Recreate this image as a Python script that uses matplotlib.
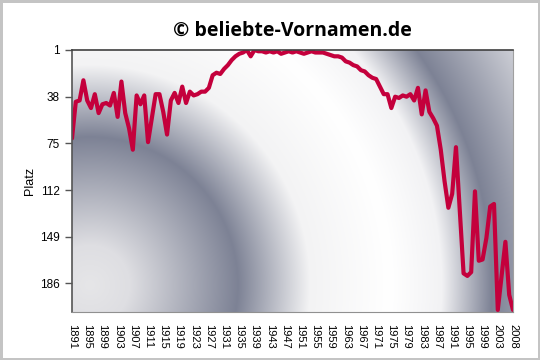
import numpy as np
import matplotlib
matplotlib.use("Agg")
import matplotlib.pyplot as plt
from matplotlib.colors import to_rgb

# ---- data -------------------------------------------------------------
years = list(range(1891, 2004)) + [2005, 2006, 2007, 2008]
ranks = [71, 42, 41, 25, 41, 47, 36, 51, 44, 43,
         45, 35, 54, 26, 51, 63, 80, 37, 44, 37,
         74, 55, 36, 36, 50, 68, 41, 35, 43, 30,
         43, 34, 37, 36, 34, 34, 31, 21, 19, 20,
         16, 13, 9, 6, 4, 3, 1, 6, 1, 2,
         2, 3, 2, 3, 2, 4, 3, 2, 3, 2,
         3, 4, 3, 2, 3, 3, 3, 4, 5, 6,
         6, 7, 10, 11, 13, 14, 17, 18, 21, 23,
         24, 30, 36, 36, 47, 38, 39, 37, 38, 36,
         41, 31, 52, 33, 50, 55, 61, 80, 105, 126,
         115, 78, 128, 178, 180, 177, 113, 168, 167, 150,
         125, 123, 207, 180, 153, 195, 207]
y_ticks = [1, 38, 75, 112, 149, 186]
title = "© beliebte-Vornamen.de"
ylabel = "Platz"

# ---- figure -----------------------------------------------------------
fig = plt.figure(figsize=(5.4, 3.6), dpi=100)
fig.patch.set_facecolor("white")
fig.patch.set_edgecolor("#c4c4c4")
fig.patch.set_linewidth(2.5)

L, R, B, T = 72/540, 513/540, 1-312/360, 1-50/360
ax = fig.add_axes([L, B, R-L, T-B])

# background radial banded gradient (in pixel units of the plot area)
nx, ny = 441, 262
u = (np.arange(nx) + 0.5)
v = (np.arange(ny) + 0.5)
U, V = np.meshgrid(u, v)
cx, cy = 90 - 72, 312 - 285   # centre, measured from bottom-left of plot
r = np.hypot(U - cx, (ny - V) - cy)  # row 0 = top
stops_r = [0, 40, 148, 220, 300, 352, 402, 500]
stops_c = ["#e6e6e8", "#dedee2", "#7d8295", "#f3f3f4", "#ffffff",
           "#f2f2f4", "#7d8295", "#dcdde2"]
cols = np.array([to_rgb(c) for c in stops_c])
img = np.dstack([np.interp(r, stops_r, cols[:, k]) for k in range(3)])
ax.imshow(img, extent=[0, 1, 0, 1], transform=ax.transAxes,
          aspect="auto", zorder=0, interpolation="bilinear")

labels = [str(y) for y in years]
ax.plot(labels, ranks, color="#c4003c", lw=3.0, zorder=3,
        solid_joinstyle="round", solid_capstyle="round")

ax.set_xlim(0, len(years) - 1)
ax.set_ylim(208.6, 1)
ax.set_yticks(y_ticks)
ax.set_yticklabels([str(t) for t in y_ticks], fontsize=8.5,
                   family="Liberation Sans")
tick_idx = list(range(0, len(years), 4))
ax.set_xticks(tick_idx)
ax.set_xticklabels([labels[i] for i in tick_idx], rotation=270,
                   fontsize=8, family="Liberation Sans")
ax.tick_params(axis="x", length=0, pad=9)
ax.tick_params(axis="y", length=5, width=1, color="#555555", pad=4)
ax.set_ylabel(ylabel, fontsize=9, family="Liberation Sans", labelpad=3)

ax.spines["left"].set_color("#555555")
ax.spines["left"].set_linewidth(1.2)
ax.spines["top"].set_color("#404040")
ax.spines["top"].set_linewidth(1.2)
ax.spines["right"].set_color("#a0a0a0")
ax.spines["bottom"].set_color("#909090")
for s in ax.spines.values():
    s.set_zorder(4)

fig.text((L + R) / 2, 1 - 36/360, title, ha="center", va="baseline",
         fontsize=14, fontweight="bold", family=["Open Sans", "DejaVu Sans"])

fig.savefig("out.png", dpi=100, facecolor=fig.get_facecolor(),
            edgecolor=fig.get_edgecolor())
